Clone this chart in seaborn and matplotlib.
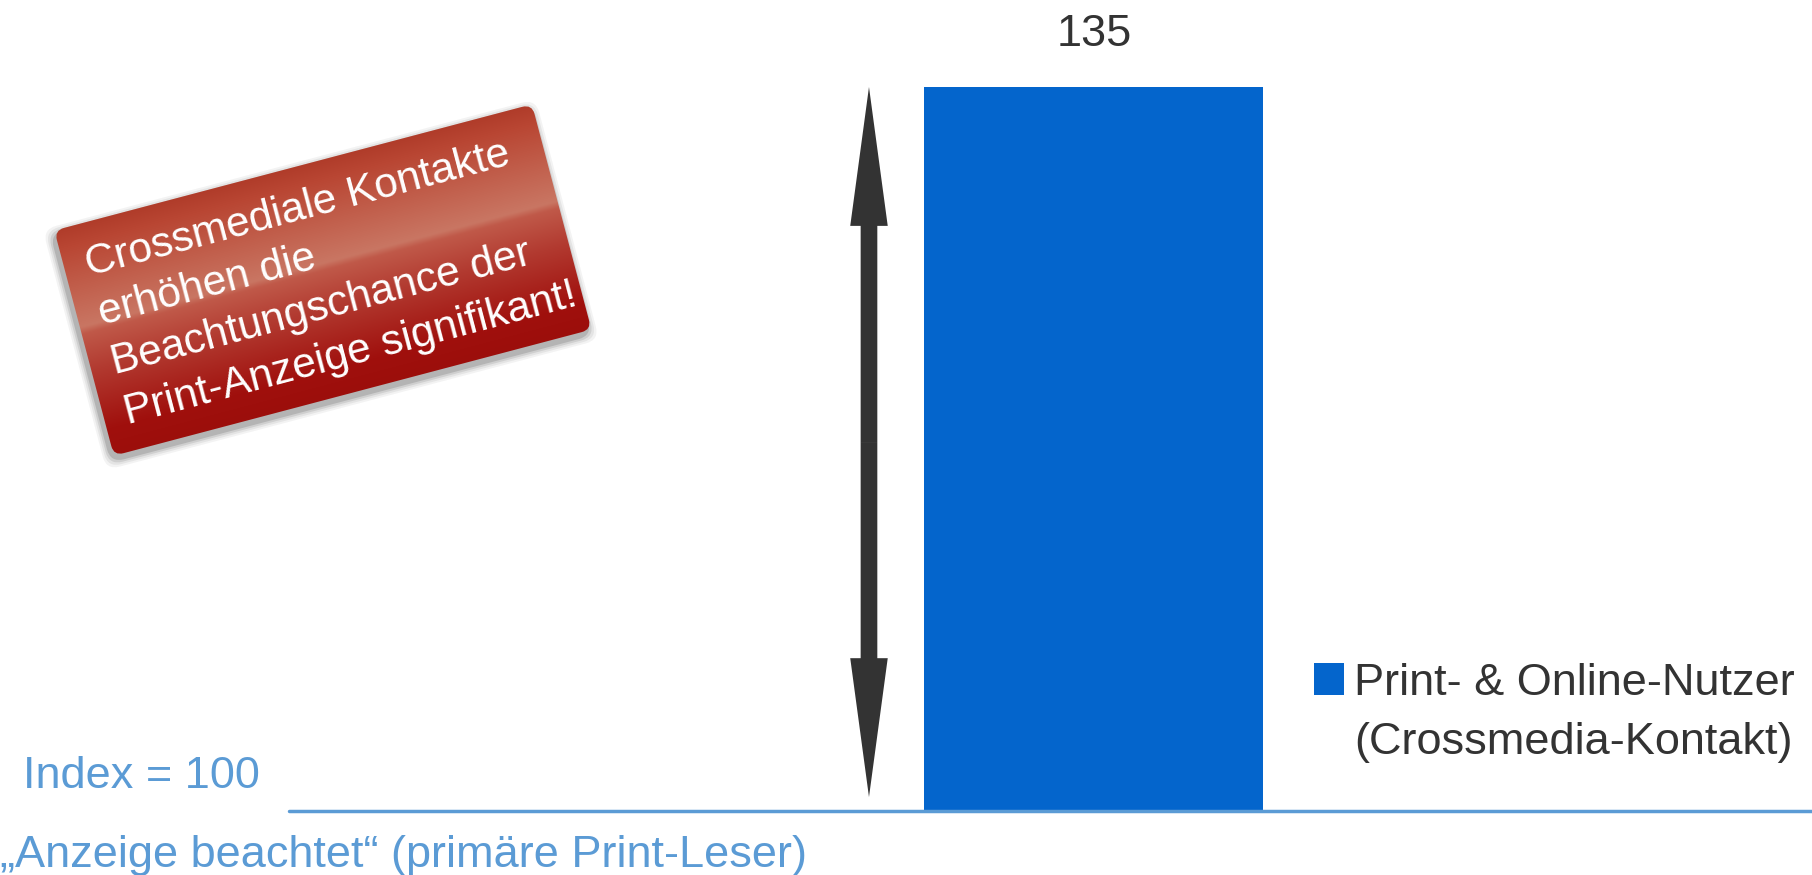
import numpy as np
import pandas as pd
import matplotlib
matplotlib.use("Agg")
import matplotlib.pyplot as plt
import seaborn as sns
from matplotlib.colors import to_rgb
from matplotlib.patches import FancyBboxPatch, FancyArrowPatch, Patch
from matplotlib.transforms import Affine2D

# Data
categories = ["Print- & Online-Nutzer"]
values = [135]
value_labels = ["135"]
legend_lines = ["Print- & Online-Nutzer", "(Crossmedia-Kontakt)"]
baseline_text = "Index = 100"
baseline_caption = "\u201eAnzeige beachtet\u201c (prim\u00e4re Print-Leser)"
callout_text = "Crossmediale Kontakte\nerh\u00f6hen die\nBeachtungschance der\nPrint-Anzeige signifikant!"

W, H = 1812, 875
BAR_BLUE = "#0465cc"
LINE_BLUE = "#5b9bd5"
DARK = "#333333"

sns.set_theme(style="white")
plt.rcParams["font.family"] = ["Liberation Sans", "DejaVu Sans"]

fig = plt.figure(figsize=(W / 100, H / 100), dpi=100)
ax = fig.add_axes([0, 0, 1, 1])

df = pd.DataFrame({"gruppe": categories, "index": values})
sns.barplot(data=df, x="gruppe", y="index", color=BAR_BLUE, saturation=1,
            width=0.8, linewidth=0, ax=ax)
ax.bar_label(ax.containers[0], labels=value_labels, padding=23,
             fontsize=32.5, color=DARK)

# baseline (index = 100)
ax.axhline(0, xmin=289 / W, xmax=1, color=LINE_BLUE, lw=2.5, zorder=3)
ax.text(23 / W, 1 - 777 / H, baseline_text, transform=ax.transAxes,
        ha="left", va="center", fontsize=32.5, color=LINE_BLUE)
ax.text(0 / W, 1 - 856 / H, baseline_caption, transform=ax.transAxes,
        ha="left", va="center", fontsize=32.5, color=LINE_BLUE)

# double arrow next to the bar
arrow_x = -0.531
arrow_top, arrow_bottom = values[0], 2.6
mid = (arrow_top + arrow_bottom) / 2
style = "simple,head_length=1.0,head_width=0.27,tail_width=0.12"
for end in (arrow_top, arrow_bottom):
    ax.add_patch(FancyArrowPatch((arrow_x, mid), (arrow_x, end), arrowstyle=style,
                                 mutation_scale=100, color=DARK, lw=0,
                                 shrinkA=0, shrinkB=0, zorder=4))

# legend
handles = [Patch(facecolor=BAR_BLUE, edgecolor="none"),
           Patch(facecolor="none", edgecolor="none")]
ax.legend(handles, legend_lines, loc="upper left",
          bbox_to_anchor=(1314 / W, 1 - 663 / H), frameon=False,
          fontsize=32.5, handlelength=0.67, handleheight=0.7,
          handletextpad=0.22, labelspacing=0.4, borderpad=0,
          borderaxespad=0, labelcolor=DARK)

# red callout box (in inches, rotated)
cx, cy = 3.229, (H - 280) / 100
bw, bh = 4.94, 2.33
angle = 14.8
rot = Affine2D().rotate_deg_around(cx, cy, angle) + fig.dpi_scale_trans

for pad, a in [(0.08, 0.06), (0.06, 0.08), (0.04, 0.12), (0.02, 0.18)]:
    sh = FancyBboxPatch((cx - bw / 2 - 0.03, cy - bh / 2 - 0.04), bw, bh,
                        boxstyle=f"round,pad={pad},rounding_size=0.14",
                        transform=rot, facecolor="#3a3a3a", edgecolor="none",
                        alpha=a, zorder=5)
    ax.add_patch(sh)

box = FancyBboxPatch((cx - bw / 2, cy - bh / 2), bw, bh,
                     boxstyle="round,pad=0,rounding_size=0.1",
                     transform=rot, facecolor="none", edgecolor="none", zorder=6)
ax.add_patch(box)

stops = [(0.0, "#b03c2a"), (0.08, "#b94633"), (0.43, "#c97663"),
         (0.46, "#c05949"), (0.62, "#b23a30"), (0.88, "#a0100d"), (1.0, "#9c0e0b")]
ts = np.linspace(0, 1, 200)
cols = np.array([to_rgb(c) for _, c in stops])
grad = np.stack([np.interp(ts, [s for s, _ in stops], cols[:, k]) for k in range(3)], axis=1)
img = np.repeat(grad[:, None, :], 2, axis=1)
im = ax.imshow(img, extent=(cx - bw / 2, cx + bw / 2, cy - bh / 2, cy + bh / 2),
               origin="upper", transform=rot, aspect="auto",
               interpolation="bilinear", zorder=6)
im.set_clip_path(box)

ax.text(3.31, (H - 279.7) / 100, callout_text, transform=fig.dpi_scale_trans,
        rotation=angle, rotation_mode="anchor", ha="center", va="center",
        multialignment="left", fontsize=30.5, color="white", linespacing=1.355,
        zorder=7)

# map data to the reference layout
ax.set_xlim(-2.5817, 1.6944)
ax.set_ylim(-11.93, 151.22)
ax.axis("off")

fig.savefig("out.png", dpi=100)
